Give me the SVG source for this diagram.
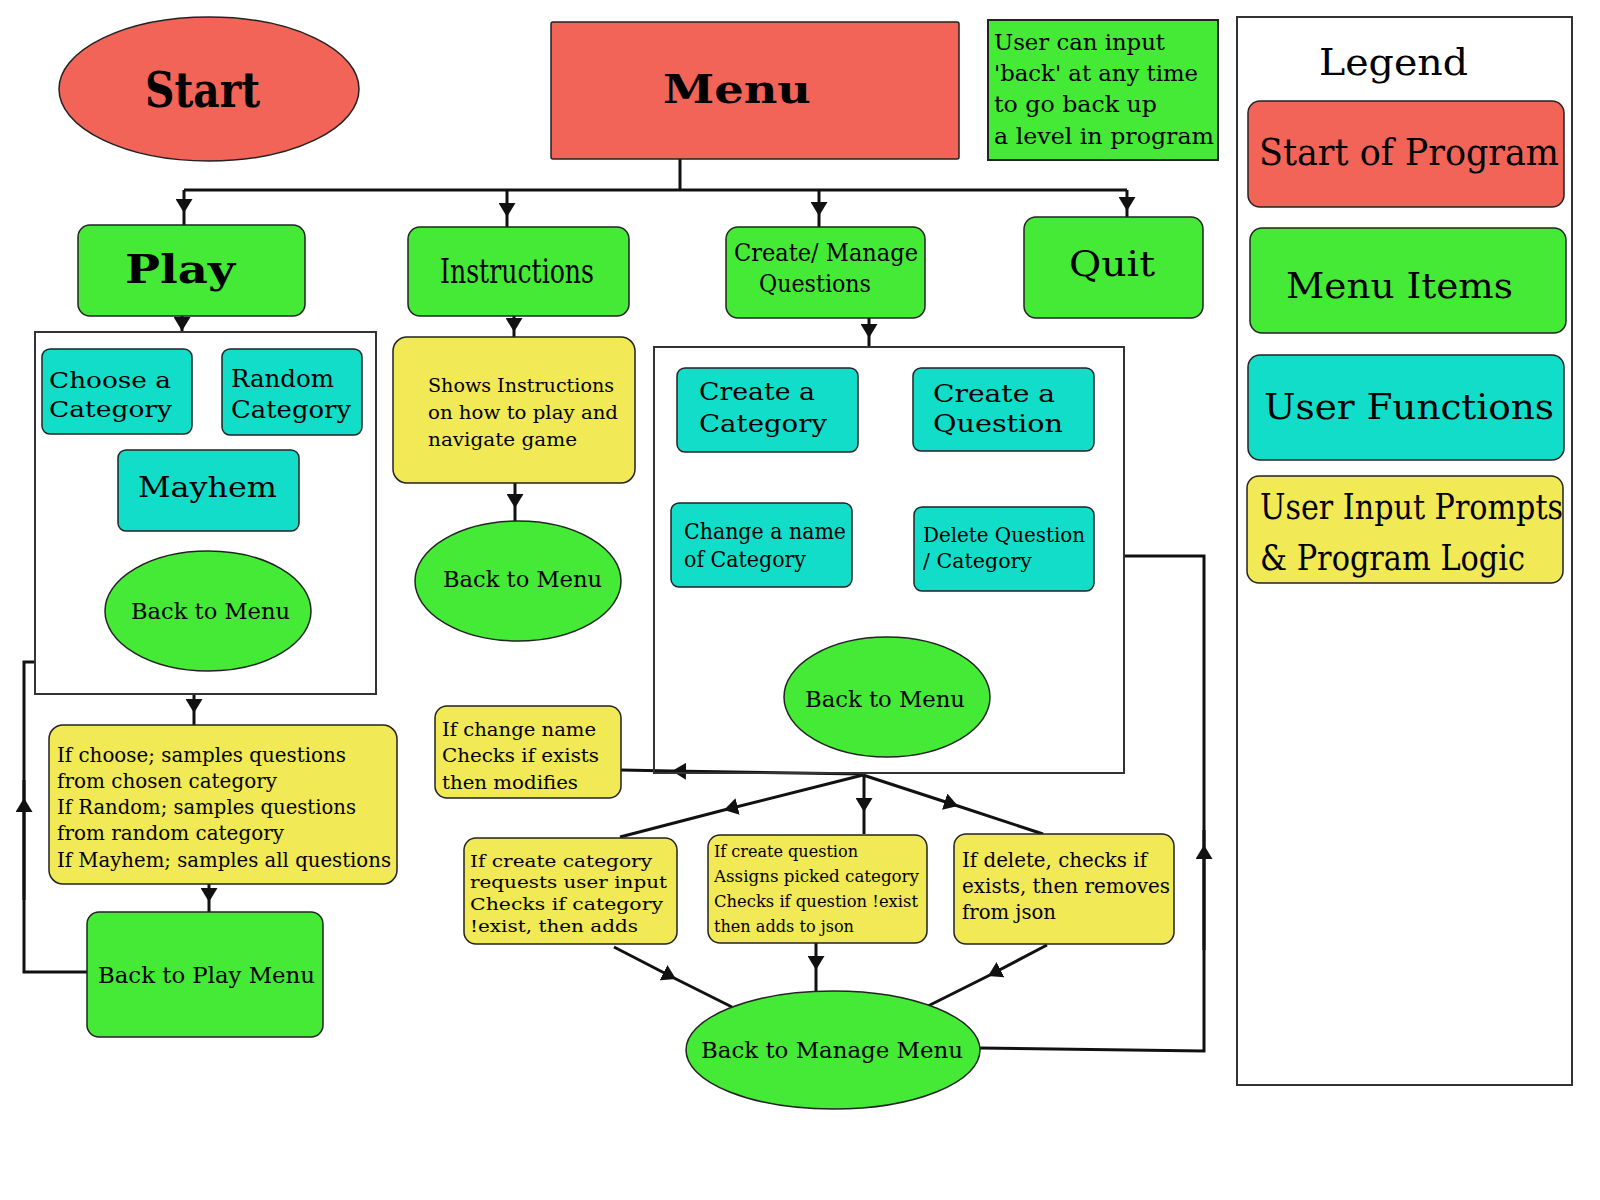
<svg xmlns="http://www.w3.org/2000/svg" width="1600" height="1200" viewBox="0 0 1600 1200">
<defs>
<style>
.red{fill:#F16457;stroke:#222;stroke-width:1.5}
.grn{fill:#44EA36;stroke:#222;stroke-width:1.5}
.cyn{fill:#12DDC9;stroke:#222;stroke-width:1.5}
.ylw{fill:#F1E955;stroke:#222;stroke-width:1.5}
.box{fill:none;stroke:#333;stroke-width:2}
.t{font-family:"DejaVu Serif","Liberation Serif",serif;fill:#000}
.c{font-family:"DejaVu Serif Condensed","DejaVu Serif","Liberation Serif",serif;fill:#000}
.b{font-weight:bold}
.conn{stroke:#111;stroke-width:3;fill:none;marker-mid:url(#ah)}
.plain{stroke:#111;stroke-width:3;fill:none}
</style>
<marker id="ah" markerUnits="userSpaceOnUse" markerWidth="14" markerHeight="17" refX="14" refY="8.5" orient="auto" viewBox="0 0 14 17">
<path d="M0,0 L14,8.5 L0,17 z" fill="#111"/>
</marker>
</defs>
<rect width="1600" height="1200" fill="#fff"/>

<g id="connectors">
<path class="plain" d="M680,159 L680,190"/>
<path class="plain" d="M184,190 L1127,190"/>
<path class="conn" d="M184,190 L184,213 L184,225"/>
<path class="conn" d="M507,190 L507,217 L507,227"/>
<path class="conn" d="M819,190 L819,216 L819,227"/>
<path class="conn" d="M1127,190 L1127,211 L1127,218"/>
<path class="conn" d="M182,316 L182,331 L182,332"/>
<path class="conn" d="M514,316 L514,332 L514,337"/>
<path class="conn" d="M869,318 L869,338 L869,347"/>
<path class="conn" d="M515,483 L515,508 L515,521"/>
<path class="conn" d="M194,694 L194,713 L194,725"/>
<path class="conn" d="M209,884 L209,902 L209,912"/>
<path class="plain" d="M87,972 L24,972 L24,662 L35,662"/>
<path class="conn" d="M24,900 L24,798 L24,780"/>
<path class="conn" d="M863,774 L672,771 L621,770"/>
<path class="conn" d="M863,775 L724,810 L620,837"/>
<path class="conn" d="M864,775 L864,812 L864,834"/>
<path class="conn" d="M863,775 L958,806 L1043,834"/>
<path class="conn" d="M614,947 L676,979 L732,1007"/>
<path class="conn" d="M816,943 L816,970 L816,992"/>
<path class="conn" d="M1047,945 L988,976 L928,1006"/>
<path class="plain" d="M979,1048 L1204,1051 L1204,556 L1124,556"/>
<path class="conn" d="M1204,950 L1204,845 L1204,830"/>
</g>

<g id="start">
<ellipse class="red" cx="209" cy="89" rx="150" ry="72"/>
<text class="c b" x="145" y="107" font-size="49" textLength="115" lengthAdjust="spacingAndGlyphs">Start</text>
</g>

<g id="menu">
<rect class="red" x="551" y="22" width="408" height="137" rx="2"/>
<text class="t b" x="663" y="103" font-size="40" textLength="148" lengthAdjust="spacingAndGlyphs">Menu</text>
</g>

<g id="note">
<rect x="988" y="20" width="230" height="140" fill="#44EA36" stroke="#222" stroke-width="2"/>
<text class="c" font-size="22">
<tspan x="994" y="50" textLength="171" lengthAdjust="spacingAndGlyphs">User can input</tspan>
<tspan x="994" y="81" textLength="204" lengthAdjust="spacingAndGlyphs">'back' at any time</tspan>
<tspan x="994" y="112" textLength="163" lengthAdjust="spacingAndGlyphs">to go back up</tspan>
<tspan x="994" y="144" textLength="220" lengthAdjust="spacingAndGlyphs">a level in program</tspan>
</text>
</g>

<g id="legend">
<rect class="box" x="1237" y="17" width="335" height="1068"/>
<text class="c" x="1319" y="75" font-size="37" textLength="149" lengthAdjust="spacingAndGlyphs">Legend</text>
<rect class="red" x="1248" y="101" width="316" height="106" rx="12"/>
<text class="c" x="1259" y="165" font-size="37" textLength="300" lengthAdjust="spacingAndGlyphs">Start of Program</text>
<rect class="grn" x="1250" y="228" width="316" height="105" rx="12"/>
<text class="c" x="1286" y="298" font-size="36" textLength="227" lengthAdjust="spacingAndGlyphs">Menu Items</text>
<rect class="cyn" x="1248" y="355" width="316" height="105" rx="12"/>
<text class="c" x="1264" y="419" font-size="36" textLength="290" lengthAdjust="spacingAndGlyphs">User Functions</text>
<rect class="ylw" x="1247" y="476" width="316" height="107" rx="12"/>
<text class="c" x="1260" y="519" font-size="36" textLength="303" lengthAdjust="spacingAndGlyphs">User Input Prompts</text>
<text class="c" x="1260" y="570" font-size="36" textLength="265" lengthAdjust="spacingAndGlyphs">&amp; Program Logic</text>
</g>

<g id="play">
<rect class="grn" x="78" y="225" width="227" height="91" rx="12"/>
<text class="t b" x="125" y="283" font-size="40" textLength="110" lengthAdjust="spacingAndGlyphs">Play</text>
</g>

<g id="instructions">
<rect class="grn" x="408" y="227" width="221" height="89" rx="12"/>
<text class="c" x="440" y="283" font-size="34" textLength="154" lengthAdjust="spacingAndGlyphs">Instructions</text>
</g>

<g id="create-manage">
<rect class="grn" x="726" y="227" width="199" height="91" rx="12"/>
<text class="c" x="734" y="261" font-size="25" textLength="184" lengthAdjust="spacingAndGlyphs">Create/ Manage</text>
<text class="c" x="759" y="292" font-size="25" textLength="112" lengthAdjust="spacingAndGlyphs">Questions</text>
</g>

<g id="quit">
<rect class="grn" x="1024" y="217" width="179" height="101" rx="12"/>
<text class="c" x="1069" y="276" font-size="36" textLength="86" lengthAdjust="spacingAndGlyphs">Quit</text>
</g>

<g id="play-group">
<rect class="box" x="35" y="332" width="341" height="362"/>
</g>

<g id="choose-category">
<rect class="cyn" x="42" y="349" width="150" height="85" rx="8"/>
<text class="t" x="49" y="388" font-size="22" textLength="122" lengthAdjust="spacingAndGlyphs">Choose a</text>
<text class="t" x="49" y="417" font-size="22" textLength="123" lengthAdjust="spacingAndGlyphs">Category</text>
</g>

<g id="random-category">
<rect class="cyn" x="222" y="349" width="140" height="86" rx="8"/>
<text class="t" x="231" y="387" font-size="24" textLength="103" lengthAdjust="spacingAndGlyphs">Random</text>
<text class="t" x="231" y="418" font-size="24" textLength="120" lengthAdjust="spacingAndGlyphs">Category</text>
</g>

<g id="mayhem">
<rect class="cyn" x="118" y="450" width="181" height="81" rx="8"/>
<text class="t" x="138" y="497" font-size="28" textLength="139" lengthAdjust="spacingAndGlyphs">Mayhem</text>
</g>

<g id="back-menu-play">
<ellipse class="grn" cx="208" cy="611" rx="103" ry="60"/>
<text class="c" x="131" y="619" font-size="23" textLength="159" lengthAdjust="spacingAndGlyphs">Back to Menu</text>
</g>

<g id="play-logic">
<rect class="ylw" x="49" y="725" width="348" height="159" rx="14"/>
<text class="t" font-size="20">
<tspan x="57" y="762" textLength="289" lengthAdjust="spacingAndGlyphs">If choose; samples questions</tspan>
<tspan x="57" y="788" textLength="220" lengthAdjust="spacingAndGlyphs">from chosen category</tspan>
<tspan x="57" y="814" textLength="299" lengthAdjust="spacingAndGlyphs">If Random; samples questions</tspan>
<tspan x="57" y="840" textLength="227" lengthAdjust="spacingAndGlyphs">from random category</tspan>
<tspan x="57" y="867" textLength="334" lengthAdjust="spacingAndGlyphs">If Mayhem; samples all questions</tspan>
</text>
</g>

<g id="back-play-menu">
<rect class="grn" x="87" y="912" width="236" height="125" rx="12"/>
<text class="t" x="98" y="983" font-size="22" textLength="217" lengthAdjust="spacingAndGlyphs">Back to Play Menu</text>
</g>

<g id="instructions-info">
<rect class="ylw" x="393" y="337" width="242" height="146" rx="14"/>
<text class="t" font-size="19">
<tspan x="428" y="392" textLength="186" lengthAdjust="spacingAndGlyphs">Shows Instructions</tspan>
<tspan x="428" y="419" textLength="190" lengthAdjust="spacingAndGlyphs">on how to play and</tspan>
<tspan x="428" y="446" textLength="149" lengthAdjust="spacingAndGlyphs">navigate game</tspan>
</text>
</g>

<g id="back-menu-instr">
<ellipse class="grn" cx="518" cy="581" rx="103" ry="60"/>
<text class="c" x="443" y="587" font-size="22" textLength="159" lengthAdjust="spacingAndGlyphs">Back to Menu</text>
</g>

<g id="manage-group">
<rect class="box" x="654" y="347" width="470" height="426"/>
</g>

<g id="create-category">
<rect class="cyn" x="677" y="368" width="181" height="84" rx="8"/>
<text class="t" x="699" y="400" font-size="24" textLength="116" lengthAdjust="spacingAndGlyphs">Create a</text>
<text class="t" x="699" y="432" font-size="24" textLength="128" lengthAdjust="spacingAndGlyphs">Category</text>
</g>

<g id="create-question">
<rect class="cyn" x="913" y="368" width="181" height="83" rx="8"/>
<text class="t" x="933" y="402" font-size="24" textLength="122" lengthAdjust="spacingAndGlyphs">Create a</text>
<text class="t" x="933" y="432" font-size="24" textLength="130" lengthAdjust="spacingAndGlyphs">Question</text>
</g>

<g id="change-name">
<rect class="cyn" x="671" y="503" width="181" height="84" rx="8"/>
<text class="t" x="684" y="539" font-size="22" textLength="162" lengthAdjust="spacingAndGlyphs">Change a name</text>
<text class="t" x="684" y="567" font-size="22" textLength="122" lengthAdjust="spacingAndGlyphs">of Category</text>
</g>

<g id="delete-question">
<rect class="cyn" x="914" y="507" width="180" height="84" rx="8"/>
<text class="t" x="923" y="542" font-size="21" textLength="162" lengthAdjust="spacingAndGlyphs">Delete Question</text>
<text class="t" x="923" y="568" font-size="21" textLength="109" lengthAdjust="spacingAndGlyphs">/ Category</text>
</g>

<g id="back-menu-manage">
<ellipse class="grn" cx="887" cy="697" rx="103" ry="60"/>
<text class="c" x="805" y="707" font-size="22" textLength="160" lengthAdjust="spacingAndGlyphs">Back to Menu</text>
</g>

<g id="change-logic">
<rect class="ylw" x="435" y="706" width="186" height="92" rx="12"/>
<text class="t" font-size="19">
<tspan x="442" y="736" textLength="154" lengthAdjust="spacingAndGlyphs">If change name</tspan>
<tspan x="442" y="762" textLength="157" lengthAdjust="spacingAndGlyphs">Checks if exists</tspan>
<tspan x="442" y="789" textLength="136" lengthAdjust="spacingAndGlyphs">then modifies</tspan>
</text>
</g>

<g id="create-category-logic">
<rect class="ylw" x="464" y="838" width="213" height="106" rx="12"/>
<text class="t" font-size="17">
<tspan x="470" y="867" textLength="182" lengthAdjust="spacingAndGlyphs">If create category</tspan>
<tspan x="470" y="888" textLength="197" lengthAdjust="spacingAndGlyphs">requests user input</tspan>
<tspan x="470" y="910" textLength="193" lengthAdjust="spacingAndGlyphs">Checks if category</tspan>
<tspan x="470" y="932" textLength="168" lengthAdjust="spacingAndGlyphs">!exist, then adds</tspan>
</text>
</g>

<g id="create-question-logic">
<rect class="ylw" x="708" y="835" width="219" height="108" rx="12"/>
<text class="c" font-size="17">
<tspan x="714" y="857" textLength="144" lengthAdjust="spacingAndGlyphs">If create question</tspan>
<tspan x="714" y="882" textLength="205" lengthAdjust="spacingAndGlyphs">Assigns picked category</tspan>
<tspan x="714" y="907" textLength="204" lengthAdjust="spacingAndGlyphs">Checks if question !exist</tspan>
<tspan x="714" y="932" textLength="140" lengthAdjust="spacingAndGlyphs">then adds to json</tspan>
</text>
</g>

<g id="delete-logic">
<rect class="ylw" x="954" y="834" width="220" height="110" rx="12"/>
<text class="c" font-size="20">
<tspan x="962" y="867" textLength="185" lengthAdjust="spacingAndGlyphs">If delete, checks if</tspan>
<tspan x="962" y="893" textLength="208" lengthAdjust="spacingAndGlyphs">exists, then removes</tspan>
<tspan x="962" y="919" textLength="94" lengthAdjust="spacingAndGlyphs">from json</tspan>
</text>
</g>

<g id="back-manage-menu">
<ellipse class="grn" cx="833" cy="1050" rx="147" ry="59"/>
<text class="c" x="701" y="1058" font-size="22" textLength="262" lengthAdjust="spacingAndGlyphs">Back to Manage Menu</text>
</g>
</svg>
